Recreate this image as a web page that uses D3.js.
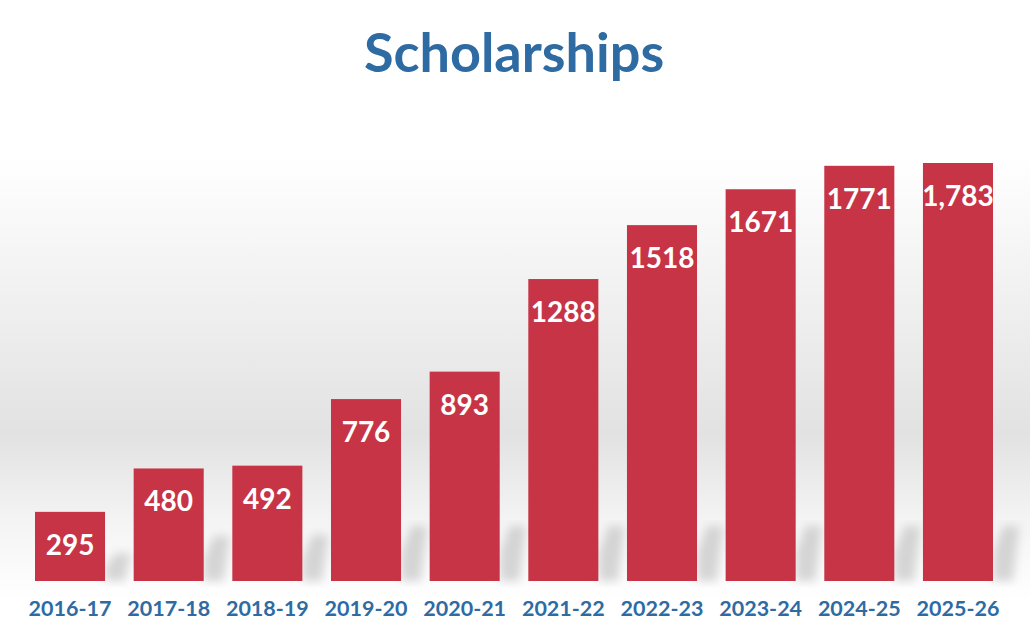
<!DOCTYPE html>
<html><head><meta charset="utf-8">
<script src="https://cdn.jsdelivr.net/npm/d3@7"></script>
<style>body{margin:0;background:#fff}</style></head>
<body><svg id="c" width="1030" height="642"></svg>
<script>
const categories=["2016-17","2017-18","2018-19","2019-20","2020-21","2021-22","2022-23","2023-24","2024-25","2025-26"];
const values=[295,480,492,776,893,1288,1518,1671,1771,1783];
const valueLabels=["295","480","492","776","893","1288","1518","1671","1771","1,783"];
const svg=d3.select("#c");
const defs=svg.append("defs");
const g=defs.append("linearGradient").attr("id","bg").attr("x1",0).attr("x2",0).attr("y1",0).attr("y2",1);
[[0,"#ffffff"],[0.15,"#ffffff"],[0.68,"#e2e2e2"],[0.85,"#f4f4f4"],[1,"#ffffff"]].forEach(s=>g.append("stop").attr("offset",s[0]).attr("stop-color",s[1]));
defs.append("filter").attr("id","blur").append("feGaussianBlur").attr("stdDeviation",5);
svg.append("rect").attr("x",0).attr("y",80).attr("width",1030).attr("height",520).attr("fill","url(#bg)");
const x=d3.scaleBand().domain(categories).range([20.7,1007.3]).paddingInner(0.29).paddingOuter(0.145);
const y=d3.scaleLinear().domain([0,1783]).range([581,163]);
svg.append("g").attr("filter","url(#blur)").selectAll("path").data(values).join("path")
 .attr("d",(d,i)=>{const x0=x(categories[i])+x.bandwidth(),b=581,h=Math.min(55,(581-y(d))*0.4);
   return `M${x0},${b} L${x0},${b-h*0.5} L${x0+10},${b-h} L${x0+26},${b-h} L${x0+20},${b} Z`;})
 .attr("fill","#bdbdbd").attr("opacity",0.6);
svg.append("g").selectAll("rect").data(values).join("rect")
 .attr("x",(d,i)=>x(categories[i])).attr("y",d=>y(d)).attr("width",x.bandwidth()).attr("height",d=>581-y(d)).attr("fill","#c63446");
svg.append("g").selectAll("text").data(values).join("text")
 .attr("x",(d,i)=>x(categories[i])+x.bandwidth()/2).attr("y",d=>y(d)+43)
 .attr("text-anchor","middle").attr("fill","#fff").attr("font-family","Lato, sans-serif").attr("font-weight","bold").attr("font-size",28)
 .text((d,i)=>valueLabels[i]);
const ax=svg.append("g").attr("transform","translate(0,581)").call(d3.axisBottom(x).tickSize(0).tickPadding(20));
ax.select(".domain").remove();
ax.selectAll("text").attr("fill","#2f6ba3").attr("font-family","Lato, sans-serif").attr("font-weight","bold").attr("font-size",21.5);
svg.append("text").attr("x",514).attr("y",72).attr("text-anchor","middle").attr("fill","#2f6ba3")
 .attr("font-family","Lato, sans-serif").attr("font-weight","bold").attr("font-size",54).text("Scholarships");
</script></body></html>
